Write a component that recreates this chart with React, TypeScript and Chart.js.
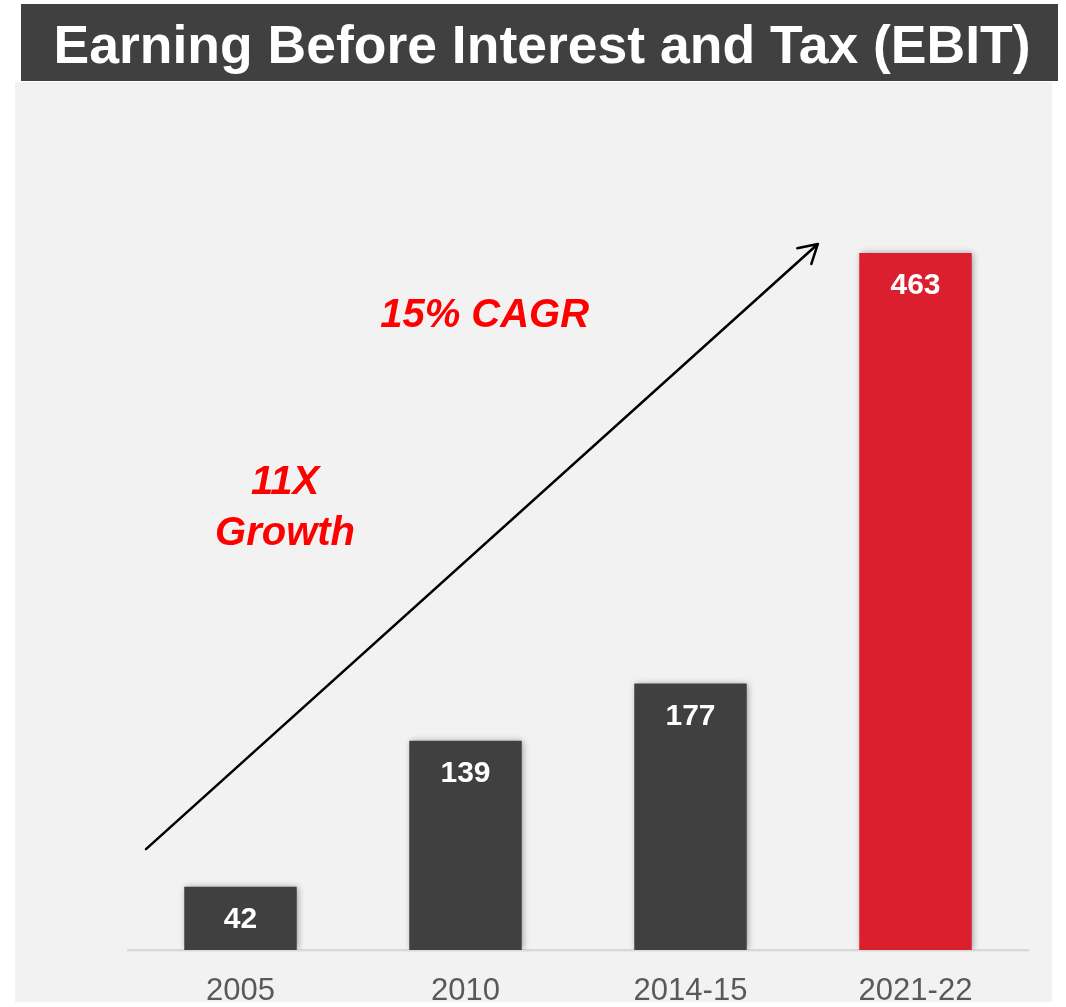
import React, { useEffect, useRef } from "react";
import { Chart, registerables } from "chart.js";

Chart.register(...registerables);

const TITLE = "Earning Before Interest and Tax (EBIT)";
const CATEGORIES = ["2005", "2010", "2014-15", "2021-22"];
const EBIT_VALUES = [42, 139, 177, 463];
const BAR_COLORS = ["#404040", "#404040", "#404040", "#DC1F2E"];
const CAGR_TEXT = "15% CAGR";
const GROWTH_LINES = ["11X", "Growth"];
// annotation anchors in scale coordinates: [category index, value]
const ARROW_FROM = [-0.42, 67];
const ARROW_TO = [2.566, 469];
const CAGR_POS = [1.085, 414];
const GROWTH_POS = [0.198, 303];

const FONT = '"Liberation Sans", Arial, Helvetica, sans-serif';

const decorPlugin = {
  id: "decor",
  beforeDraw(chart: any) {
    const ctx = chart.ctx;
    ctx.save();
    ctx.fillStyle = "#ffffff";
    ctx.fillRect(0, 0, chart.width, chart.height);
    ctx.fillStyle = "#f2f2f2";
    ctx.fillRect(15, 82, 1037, chart.height - 82);
    ctx.fillStyle = "#404040";
    ctx.fillRect(21, 4, 1037, 77);
    ctx.fillStyle = "#ffffff";
    ctx.font = `bold 53.5px ${FONT}`;
    ctx.textAlign = "center";
    ctx.textBaseline = "alphabetic";
    ctx.fillText(TITLE, 542, 63);
    ctx.restore();
  },
  beforeDatasetsDraw(chart: any) {
    const ctx = chart.ctx;
    ctx.save();
    ctx.shadowColor = "rgba(0,0,0,0.4)";
    ctx.shadowBlur = 7;
    ctx.shadowOffsetX = 1.5;
    ctx.shadowOffsetY = 0;
  },
  afterDatasetsDraw(chart: any) {
    const ctx = chart.ctx;
    ctx.restore();
    const xs = chart.scales.x;
    const ys = chart.scales.y;
    // value labels
    ctx.save();
    ctx.fillStyle = "#ffffff";
    ctx.font = `bold 30px ${FONT}`;
    ctx.textAlign = "center";
    ctx.textBaseline = "middle";
    const meta = chart.getDatasetMeta(0);
    meta.data.forEach((bar: any, i: number) => {
      ctx.fillText(String(EBIT_VALUES[i]), bar.x, bar.y + 33);
    });
    ctx.restore();

    // arrow
    const x1 = xs.getPixelForValue(ARROW_FROM[0]);
    const y1 = ys.getPixelForValue(ARROW_FROM[1]);
    const x2 = xs.getPixelForValue(ARROW_TO[0]);
    const y2 = ys.getPixelForValue(ARROW_TO[1]);
    ctx.save();
    ctx.strokeStyle = "#000000";
    ctx.lineWidth = 2.5;
    ctx.lineCap = "round";
    ctx.lineJoin = "round";
    ctx.beginPath();
    ctx.moveTo(x1, y1);
    ctx.lineTo(x2, y2);
    const ang = Math.atan2(y2 - y1, x2 - x1);
    const len = 21;
    const spread = Math.PI / 6;
    ctx.moveTo(x2 - len * Math.cos(ang - spread), y2 - len * Math.sin(ang - spread));
    ctx.lineTo(x2, y2);
    ctx.lineTo(x2 - len * Math.cos(ang + spread), y2 - len * Math.sin(ang + spread));
    ctx.stroke();
    ctx.restore();

    // annotations
    ctx.save();
    ctx.fillStyle = "#ff0000";
    ctx.font = `italic bold 40px ${FONT}`;
    ctx.textAlign = "center";
    ctx.textBaseline = "alphabetic";
    ctx.fillText(CAGR_TEXT, xs.getPixelForValue(CAGR_POS[0]), ys.getPixelForValue(CAGR_POS[1]));
    const gx = xs.getPixelForValue(GROWTH_POS[0]);
    const gy = ys.getPixelForValue(GROWTH_POS[1]);
    GROWTH_LINES.forEach((line, i) => {
      ctx.fillText(line, gx, gy + i * 51);
    });
    ctx.restore();
  },
};

export default function App() {
  const canvasRef = useRef<HTMLCanvasElement | null>(null);

  useEffect(() => {
    const canvas = canvasRef.current;
    if (!canvas) return;
    const chart = new Chart(canvas, {
      type: "bar",
      data: {
        labels: CATEGORIES,
        datasets: [
          {
            data: EBIT_VALUES,
            backgroundColor: BAR_COLORS,
            borderWidth: 0,
            barPercentage: 0.5,
            categoryPercentage: 1,
          },
        ],
      },
      plugins: [decorPlugin],
      options: {
        animation: false,
        responsive: false,
        devicePixelRatio: 1,
        layout: { padding: { left: 128, right: 38, top: 197.3, bottom: 8 } },
        plugins: {
          legend: { display: false },
          title: { display: false },
          tooltip: { enabled: false },
        },
        scales: {
          x: {
            grid: { display: false, drawTicks: false, tickLength: 0 },
            border: { display: true, color: "#d9d9d9", width: 2.5 },
            ticks: {
              color: "#595959",
              font: { family: FONT, size: 31 },
              padding: 22.4,
              maxRotation: 0,
              autoSkip: false,
            },
          },
          y: {
            display: false,
            min: 0,
            max: 500,
          },
        },
      },
    });
    return () => chart.destroy();
  }, []);

  return (
    <div
      style={{
        position: "fixed",
        left: 0,
        top: 0,
        width: 1066,
        height: 1002,
        overflow: "hidden",
        background: "#ffffff",
      }}
    >
      <canvas ref={canvasRef} width={1066} height={1040} style={{ display: "block" }} />
    </div>
  );
}
